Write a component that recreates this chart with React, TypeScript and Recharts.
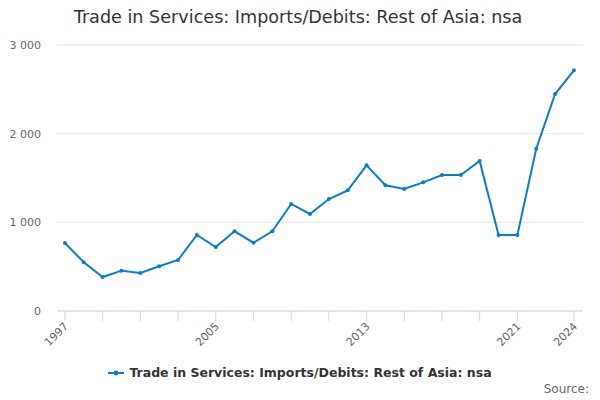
import React from 'react';
import { LineChart, Line, XAxis, YAxis, CartesianGrid } from 'recharts';

const years = [1997,1998,1999,2000,2001,2002,2003,2004,2005,2006,2007,2008,2009,2010,2011,2012,2013,2014,2015,2016,2017,2018,2019,2020,2021,2022,2023,2024];
const values = [767,549,383,455,429,504,575,857,722,899,770,899,1207,1094,1263,1361,1643,1418,1376,1451,1534,1534,1692,857,857,1831,2447,2715];
const xTicks = [1997,1999,2001,2003,2005,2007,2009,2011,2013,2015,2017,2019,2021,2024];
const xLabels = [1997,2005,2013,2021,2024];
const yTicks = [0,1000,2000,3000];
const seriesName = 'Trade in Services: Imports/Debits: Rest of Asia: nsa';
const title = 'Trade in Services: Imports/Debits: Rest of Asia: nsa';

const data = years.map((y, i) => ({ year: y, value: values[i] }));
const color = '#0f7cc2';
const font = '"DejaVu Sans", sans-serif';

const XTick = (props: any) => {
  const { x, y, payload } = props;
  if (!xLabels.includes(payload.value)) return null;
  return (
    <text x={x + 4} y={y + 4} transform={`rotate(-45 ${x + 4} ${y + 4})`} textAnchor="end" fontSize={11} fill="#666" fontFamily={font}>
      {payload.value}
    </text>
  );
};

export default function App() {
  return (
    <div style={{ position: 'absolute', left: 0, top: 0, width: 600, height: 400, fontFamily: font, background: '#fff' }}>
      <div style={{ position: 'absolute', left: 0, top: 7, width: 596, textAlign: 'center', fontSize: 17.6, color: '#333' }}>{title}</div>
      <LineChart width={600} height={400} data={data} margin={{ top: 45, right: 17, bottom: 49, left: 0 }}>
        <CartesianGrid vertical={false} stroke="#e6e6e6" />
        <XAxis
          dataKey="year"
          type="number"
          domain={[1996.58, 2024.48]}
          ticks={xTicks}
          interval={0}
          tick={<XTick />}
          tickSize={10}
          stroke="#ccd6eb"
          tickLine={{ stroke: '#ccd6eb' }}
          axisLine={{ stroke: '#ccd6eb' }}
          height={40}
        />
        <YAxis
          domain={[0, 3000]}
          ticks={yTicks}
          width={57}
          axisLine={false}
          tickLine={false}
          tickSize={0}
          tickMargin={16}
          tick={{ fontSize: 11, fill: '#666', fontFamily: font }}
          tickFormatter={(v: number) => v.toLocaleString('en-US').replace(/,/g, ' ')}
        />
        <Line type="linear" dataKey="value" name={seriesName} stroke={color} strokeWidth={2} dot={{ r: 2, fill: color, stroke: color, strokeWidth: 0 }} isAnimationActive={false} />
      </LineChart>
      <div style={{ position: 'absolute', left: 0, top: 365, width: 600, display: 'flex', justifyContent: 'center', alignItems: 'center' }}>
        <svg width={16} height={10} style={{ marginRight: 5 }}>
          <line x1={0} y1={5} x2={16} y2={5} stroke={color} strokeWidth={2} />
          <circle cx={8} cy={5} r={2.5} fill={color} />
        </svg>
        <span style={{ fontSize: 12.5, fontWeight: 'bold', color: '#333' }}>{seriesName}</span>
      </div>
      <div style={{ position: 'absolute', right: 11, top: 382, fontSize: 12, color: '#666' }}>Source:</div>
    </div>
  );
}
